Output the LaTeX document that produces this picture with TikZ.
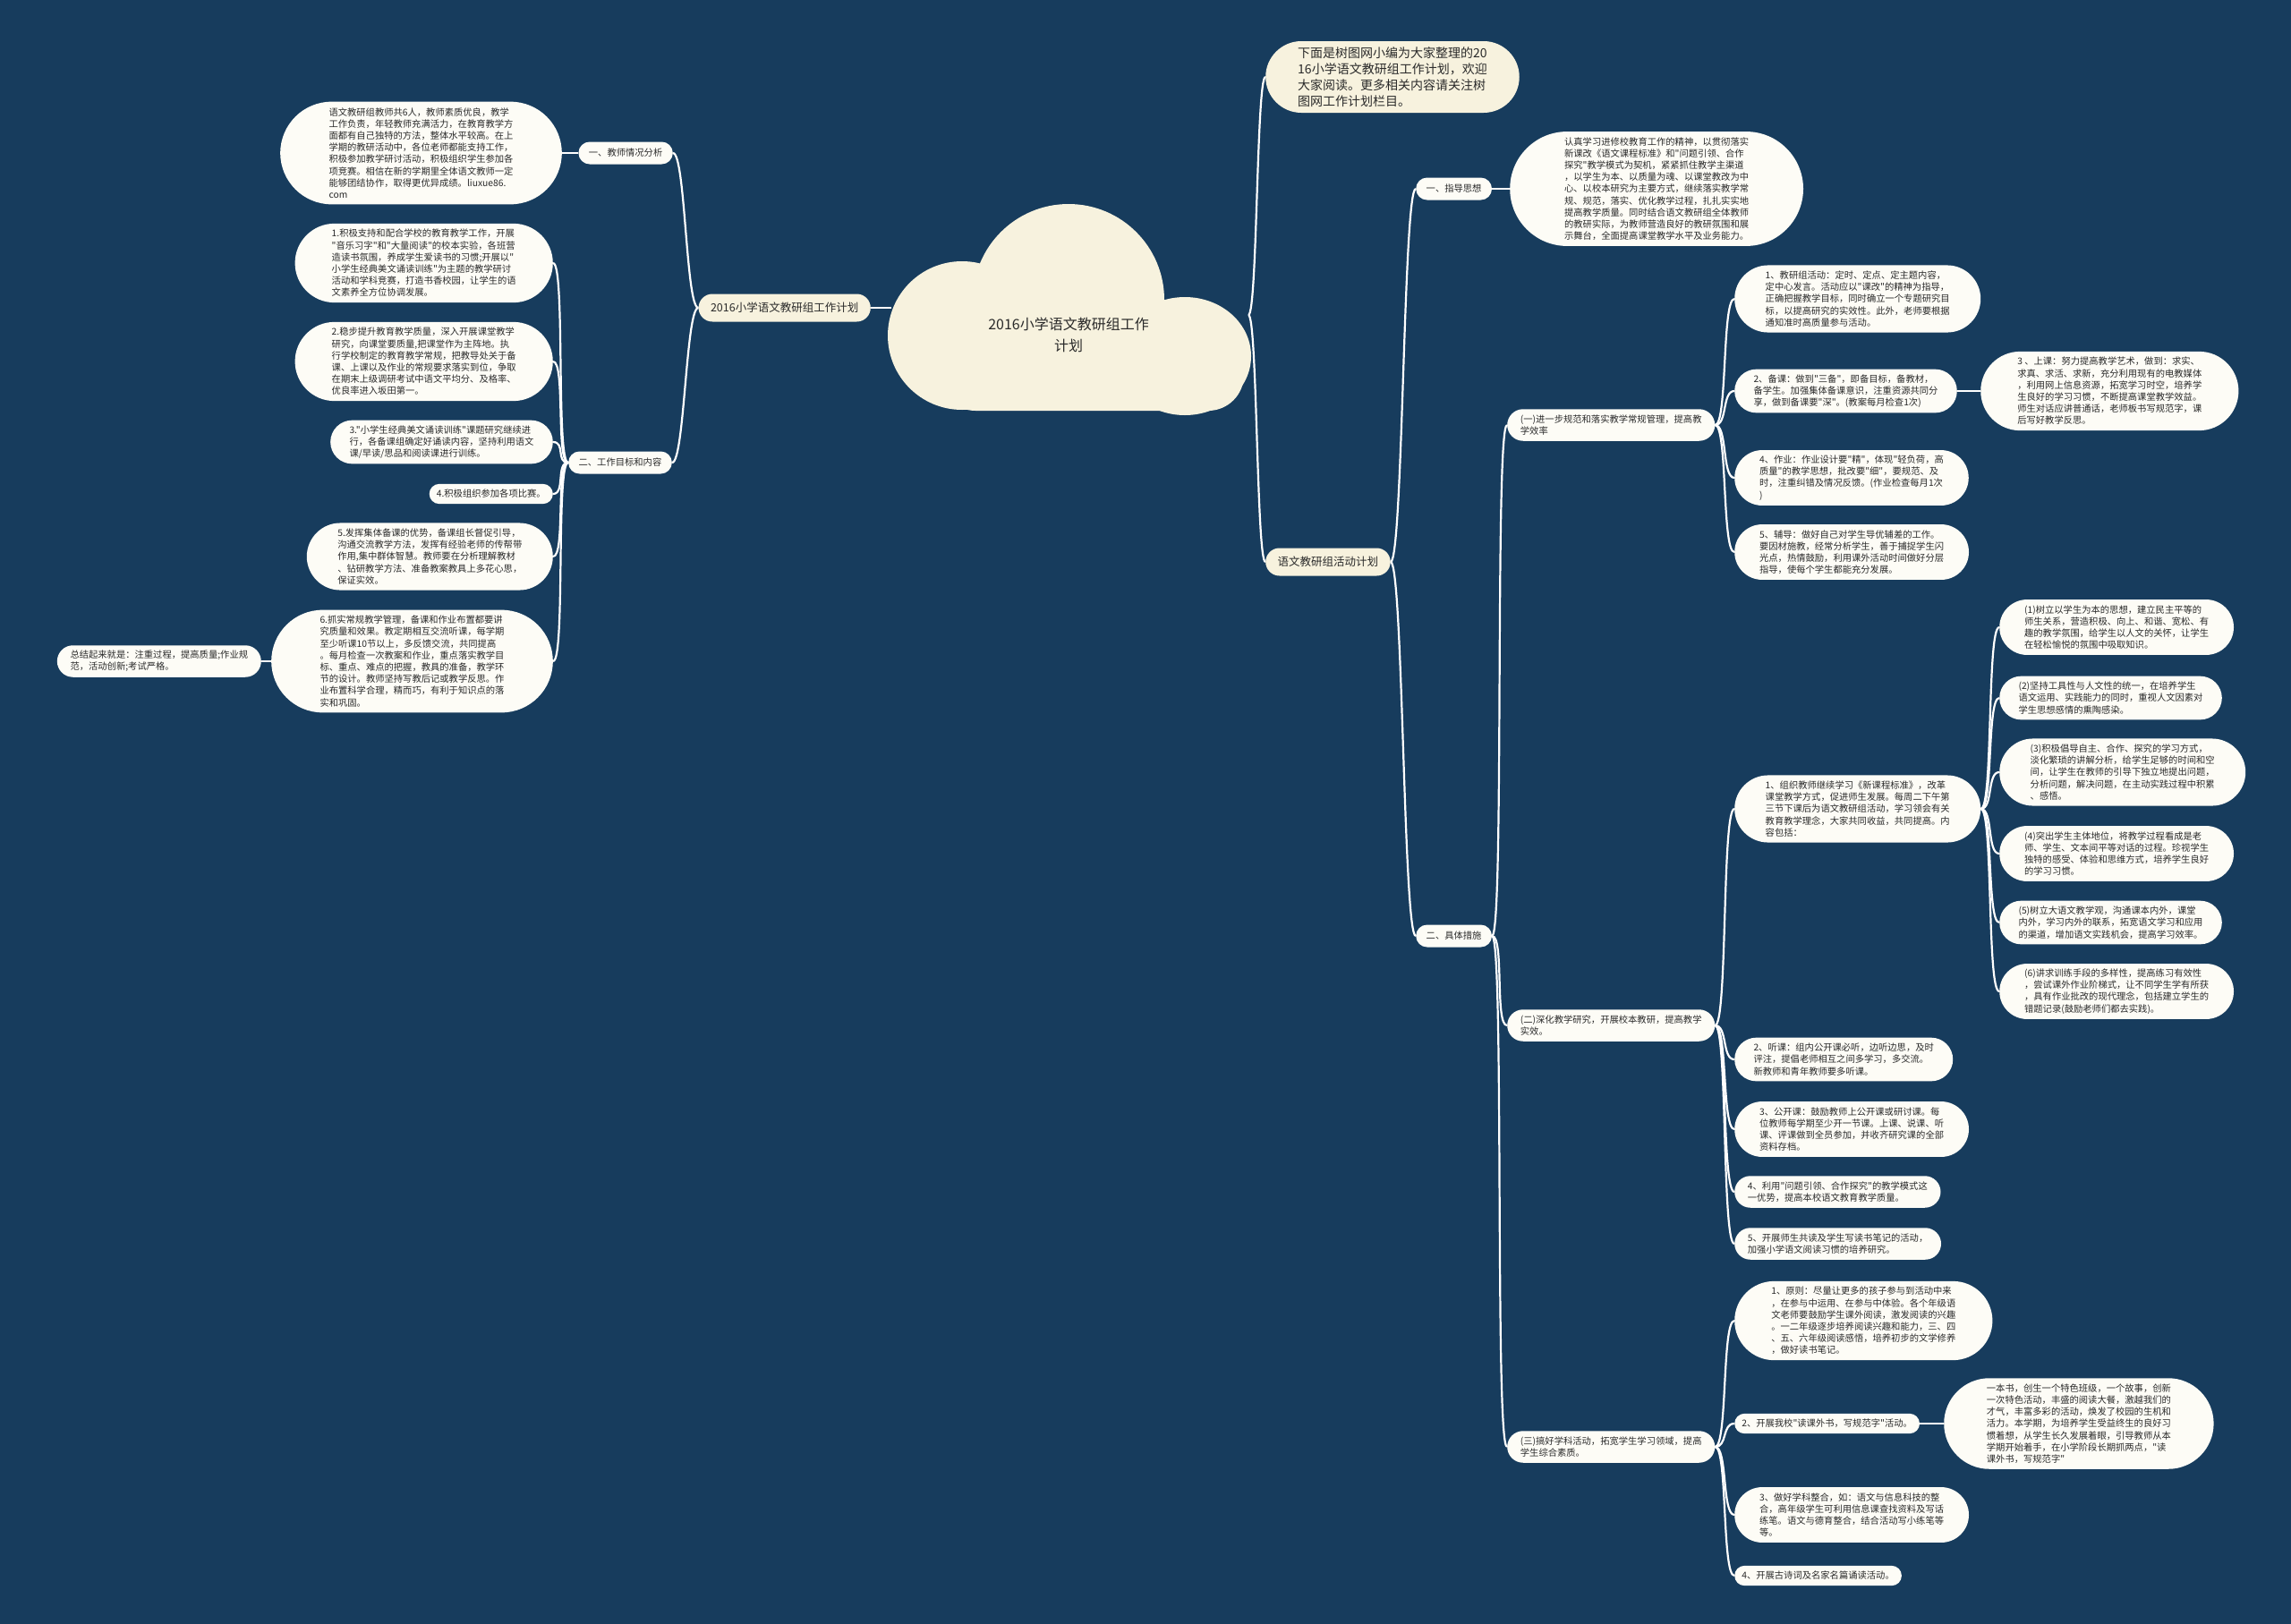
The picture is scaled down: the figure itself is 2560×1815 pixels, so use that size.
\documentclass[tikz,border=0pt]{standalone}
\usepackage{fontspec}
\newfontfamily\cjk{Noto Sans CJK SC}
\definecolor{bgc}{HTML}{173C5D}
\definecolor{leafc}{HTML}{FDFCF6}
\definecolor{creamc}{HTML}{F7F2DE}
\definecolor{txtc}{HTML}{2A2A2A}
\pgfdeclarelayer{bglayer}
\pgfdeclarelayer{linelayer}
\pgfsetlayers{bglayer,linelayer,main}
\tikzset{
  leafn/.style={rectangle, fill=leafc, text=txtc, align=left,
    font=\cjk\fontsize{10.3}{13.2}\selectfont, inner ysep=3pt,
    minimum height={13.2*#1+9.1}, inner xsep={6.6*#1+1.5}, rounded corners={6.6*#1+4.55}},
  labn/.style={rectangle, fill=leafc, text=txtc, align=left,
    font=\cjk\fontsize{10.3}{13.2}\selectfont, inner ysep=3pt,
    minimum height=25, inner xsep=11.5, rounded corners=12.5},
  bign/.style={rectangle, fill=creamc, text=txtc, align=left,
    font=\cjk\fontsize{12.5}{15}\selectfont, inner ysep=3pt,
    minimum height=31, inner xsep=13.5, rounded corners=15.5},
  conn/.style={draw=white, line width=2.2pt},
}
\newcommand{\rconn}[2]{\draw[conn] (#1.east) .. controls +(14,0) and +(-14,0) .. (#2.west);}
\newcommand{\lconn}[2]{\draw[conn] (#1.west) .. controls +(-14,0) and +(14,0) .. (#2.east);}
\begin{document}
\begin{tikzpicture}[x=1pt,y=-1pt]
\begin{pgfonlayer}{bglayer}
\fill[bgc] (0,0) rectangle (2560,1815);
\end{pgfonlayer}
\useasboundingbox (0,0) rectangle (2560,1815);

% cloud
\fill[creamc] (1194,335) circle[radius=107pt];
\fill[creamc] (1075,375) circle[radius=83pt];
\fill[creamc] (1324,398) ellipse[x radius=74pt, y radius=66pt];
\fill[creamc, rounded corners=40pt] (1050,360) rectangle (1390,459);
\node[align=center, font=\cjk\fontsize{16}{24}\selectfont, text=txtc] (root) at (1194,374) {2016小学语文教研组工作\\计划};
\coordinate (rootL) at (996,344);
\coordinate (rootR) at (1395,352);

% left side
\node[bign, anchor=east] (lroot) at (973,344) {2016小学语文教研组工作计划};
\node[labn, anchor=east] (a1) at (752,171) {一、教师情况分析};
\node[labn, anchor=east] (a2) at (751,517) {二、工作目标和内容};
\node[leafn=8, anchor=east] (t1) at (628,171) {语文教研组教师共6人，教师素质优良，教学\\工作负责，年轻教师充满活力，在教育教学方\\面都有自己独特的方法，整体水平较高。在上\\学期的教研活动中，各位老师都能支持工作，\\积极参加教学研讨活动，积极组织学生参加各\\项竞赛。相信在新的学期里全体语文教师一定\\能够团结协作，取得更优异成绩。liuxue86.\\com};
\node[leafn=6, anchor=east] (b1) at (618,294) {1.积极支持和配合学校的教育教学工作，开展\\"音乐习字"和"大量阅读"的校本实验，各班营\\造读书氛围，养成学生爱读书的习惯;开展以"\\小学生经典美文诵读训练"为主题的教学研讨\\活动和学科竞赛，打造书香校园，让学生的语\\文素养全方位协调发展。};
\node[leafn=6, anchor=east] (b2) at (618,404) {2.稳步提升教育教学质量，深入开展课堂教学\\研究，向课堂要质量,把课堂作为主阵地。执\\行学校制定的教育教学常规，把教导处关于备\\课、上课以及作业的常规要求落实到位，争取\\在期末上级调研考试中语文平均分、及格率、\\优良率进入坂田第一。};
\node[leafn=3, anchor=east] (b3) at (618,494) {3."小学生经典美文诵读训练"课题研究继续进\\行，各备课组确定好诵读内容，坚持利用语文\\课/早读/思品和阅读课进行训练。};
\node[leafn=1, anchor=east] (b4) at (618,552) {4.积极组织参加各项比赛。};
\node[leafn=5, anchor=east] (b5) at (618,622) {5.发挥集体备课的优势，备课组长督促引导，\\沟通交流教学方法，发挥有经验老师的传帮带\\作用,集中群体智慧。教师要在分析理解教材\\、钻研教学方法、准备教案教具上多花心思，\\保证实效。};
\node[leafn=8, anchor=east] (b6) at (618,739) {6.抓实常规教学管理，备课和作业布置都要讲\\究质量和效果。教定期相互交流听课，每学期\\至少听课10节以上，多反馈交流，共同提高\\。每月检查一次教案和作业，重点落实教学目\\标、重点、难点的把握，教具的准备，教学环\\节的设计。教师坚持写教后记或教学反思。作\\业布置科学合理，精而巧，有利于知识点的落\\实和巩固。};
\node[leafn=2, anchor=east] (sum) at (292,739) {总结起来就是：注重过程，提高质量;作业规\\范，活动创新;考试严格。};

% right side
\node[bign, anchor=west, font=\cjk\fontsize{14}{18}\selectfont, minimum height=80, inner xsep=36, rounded corners=40] (intro) at (1414,86) {下面是树图网小编为大家整理的20\\16小学语文教研组工作计划，欢迎\\大家阅读。更多相关内容请关注树\\图网工作计划栏目。};
\node[bign, anchor=west] (r0) at (1414,628) {语文教研组活动计划};
\node[labn, anchor=west] (r1) at (1582,211) {一、指导思想};
\node[leafn=9, anchor=west] (r1t) at (1687,211) {认真学习进修校教育工作的精神，以贯彻落实\\新课改《语文课程标准》和"问题引领、合作\\探究"教学模式为契机，紧紧抓住教学主渠道\\，以学生为本、以质量为魂、以课堂教改为中\\心、以校本研究为主要方式，继续落实教学常\\规、规范，落实、优化教学过程，扎扎实实地\\提高教学质量。同时结合语文教研组全体教师\\的教研实际，为教师营造良好的教研氛围和展\\示舞台，全面提高课堂教学水平及业务能力。};
\node[labn, anchor=west] (r2) at (1582,1046) {二、具体措施};

\node[leafn=2, anchor=west] (s1) at (1684,475) {(一)进一步规范和落实教学常规管理，提高教\\学效率};
\node[leafn=2, anchor=west] (s2) at (1684,1146) {(二)深化教学研究，开展校本教研，提高教学\\实效。};
\node[leafn=2, anchor=west] (s3) at (1684,1617) {(三)搞好学科活动，拓宽学生学习领域，提高\\学生综合素质。};

\node[leafn=5, anchor=west] (c11) at (1938,334) {1、教研组活动：定时、定点、定主题内容，\\定中心发言。活动应以"课改"的精神为指导，\\正确把握教学目标，同时确立一个专题研究目\\标，以提高研究的实效性。此外，老师要根据\\通知准时高质量参与活动。};
\node[leafn=3, anchor=west] (c12) at (1938,437) {2、备课：做到"三备"，即备目标，备教材，\\备学生。加强集体备课意识，注重资源共同分\\享，做到备课要"深"。(教案每月检查1次)};
\node[leafn=6, anchor=west] (c13) at (2213,437) {3 、上课：努力提高教学艺术，做到：求实、\\求真、求活、求新，充分利用现有的电教媒体\\，利用网上信息资源，拓宽学习时空，培养学\\生良好的学习习惯，不断提高课堂教学效益。\\师生对话应讲普通话，老师板书写规范字，课\\后写好教学反思。};
\node[leafn=4, anchor=west] (c14) at (1938,534) {4、作业：作业设计要"精"，体现"轻负荷，高\\质量"的教学思想，批改要"细"，要规范、及\\时，注重纠错及情况反馈。(作业检查每月1次\\)};
\node[leafn=4, anchor=west] (c15) at (1938,617) {5、辅导：做好自己对学生导优辅差的工作。\\要因材施教，经常分析学生，善于捕捉学生闪\\光点，热情鼓励，利用课外活动时间做好分层\\指导，使每个学生都能充分发展。};

\node[leafn=5, anchor=west] (c21) at (1938,904) {1、组织教师继续学习《新课程标准》，改革\\课堂教学方式，促进师生发展。每周二下午第\\三节下课后为语文教研组活动，学习领会有关\\教育教学理念，大家共同收益，共同提高。内\\容包括：};
\node[leafn=4, anchor=west] (d1) at (2234,701) {(1)树立以学生为本的思想，建立民主平等的\\师生关系，营造积极、向上、和谐、宽松、有\\趣的教学氛围，给学生以人文的关怀，让学生\\在轻松愉悦的氛围中吸取知识。};
\node[leafn=3, anchor=west] (d2) at (2234,780) {(2)坚持工具性与人文性的统一，在培养学生\\语文运用、实践能力的同时，重视人文因素对\\学生思想感情的熏陶感染。};
\node[leafn=5, anchor=west] (d3) at (2234,863) {(3)积极倡导自主、合作、探究的学习方式，\\淡化繁琐的讲解分析，给学生足够的时间和空\\间，让学生在教师的引导下独立地提出问题，\\分析问题，解决问题，在主动实践过程中积累\\、感悟。};
\node[leafn=4, anchor=west] (d4) at (2234,954) {(4)突出学生主体地位，将教学过程看成是老\\师、学生、文本间平等对话的过程。珍视学生\\独特的感受、体验和思维方式，培养学生良好\\的学习习惯。};
\node[leafn=3, anchor=west] (d5) at (2234,1031) {(5)树立大语文教学观，沟通课本内外，课堂\\内外，学习内外的联系，拓宽语文学习和应用\\的渠道，增加语文实践机会，提高学习效率。};
\node[leafn=4, anchor=west] (d6) at (2234,1108) {(6)讲求训练手段的多样性，提高练习有效性\\，尝试课外作业阶梯式，让不同学生学有所获\\，具有作业批改的现代理念，包括建立学生的\\错题记录(鼓励老师们都去实践)。};
\node[leafn=3, anchor=west] (c22) at (1938,1184) {2、听课：组内公开课必听，边听边思，及时\\评注，提倡老师相互之间多学习，多交流。\\新教师和青年教师要多听课。};
\node[leafn=4, anchor=west] (c23) at (1938,1262) {3、公开课：鼓励教师上公开课或研讨课。每\\位教师每学期至少开一节课。上课、说课、听\\课、评课做到全员参加，并收齐研究课的全部\\资料存档。};
\node[leafn=2, anchor=west] (c24) at (1938,1332) {4、利用"问题引领、合作探究"的教学模式这\\一优势，提高本校语文教育教学质量。};
\node[leafn=2, anchor=west] (c25) at (1938,1390) {5、开展师生共读及学生写读书笔记的活动，\\加强小学语文阅读习惯的培养研究。};

\node[leafn=6, anchor=west] (c31) at (1938,1476) {1、原则：尽量让更多的孩子参与到活动中来\\，在参与中运用、在参与中体验。各个年级语\\文老师要鼓励学生课外阅读，激发阅读的兴趣\\。一二年级逐步培养阅读兴趣和能力，三、四\\、五、六年级阅读感悟，培养初步的文学修养\\，做好读书笔记。};
\node[leafn=1, anchor=west] (c32) at (1938,1591) {2、开展我校"读课外书，写规范字"活动。};
\node[leafn=7, anchor=west] (c3b) at (2172,1591) {一本书，创生一个特色班级，一个故事，创新\\一次特色活动，丰盛的阅读大餐，激越我们的\\才气，丰富多彩的活动，焕发了校园的生机和\\活力。本学期，为培养学生受益终生的良好习\\惯着想，从学生长久发展着眼，引导教师从本\\学期开始着手，在小学阶段长期抓两点，"读\\课外书，写规范字"};
\node[leafn=4, anchor=west] (c33) at (1938,1693) {3、做好学科整合，如：语文与信息科技的整\\合，高年级学生可利用信息课查找资料及写话\\练笔。语文与德育整合，结合活动写小练笔等\\等。};
\node[leafn=1, anchor=west] (c34) at (1938,1761) {4、开展古诗词及名家名篇诵读活动。};

% connectors
\begin{pgfonlayer}{linelayer}
\draw[conn] (rootL) -- (lroot.east);
\draw[conn] (rootR) .. controls +(10,0) and +(-10,0) .. (intro.west);
\draw[conn] (rootR) .. controls +(10,0) and +(-10,0) .. (r0.west);
\lconn{lroot}{a1}
\lconn{lroot}{a2}
\draw[conn] (a1.west) -- (t1.east);
\lconn{a2}{b1}
\lconn{a2}{b2}
\lconn{a2}{b3}
\lconn{a2}{b4}
\lconn{a2}{b5}
\lconn{a2}{b6}
\draw[conn] (b6.west) -- (sum.east);
\rconn{r0}{r1}
\rconn{r0}{r2}
\draw[conn] (r1.east) -- (r1t.west);
\rconn{r2}{s1}
\rconn{r2}{s2}
\rconn{r2}{s3}
\rconn{s1}{c11}
\rconn{s1}{c12}
\rconn{s1}{c14}
\rconn{s1}{c15}
\draw[conn] (c12.east) -- (c13.west);
\rconn{s2}{c21}
\rconn{s2}{c22}
\rconn{s2}{c23}
\rconn{s2}{c24}
\rconn{s2}{c25}
\rconn{c21}{d1}
\rconn{c21}{d2}
\rconn{c21}{d3}
\rconn{c21}{d4}
\rconn{c21}{d5}
\rconn{c21}{d6}
\rconn{s3}{c31}
\rconn{s3}{c32}
\rconn{s3}{c33}
\rconn{s3}{c34}
\draw[conn] (c32.east) -- (c3b.west);
\end{pgfonlayer}
\end{tikzpicture}
\end{document}
